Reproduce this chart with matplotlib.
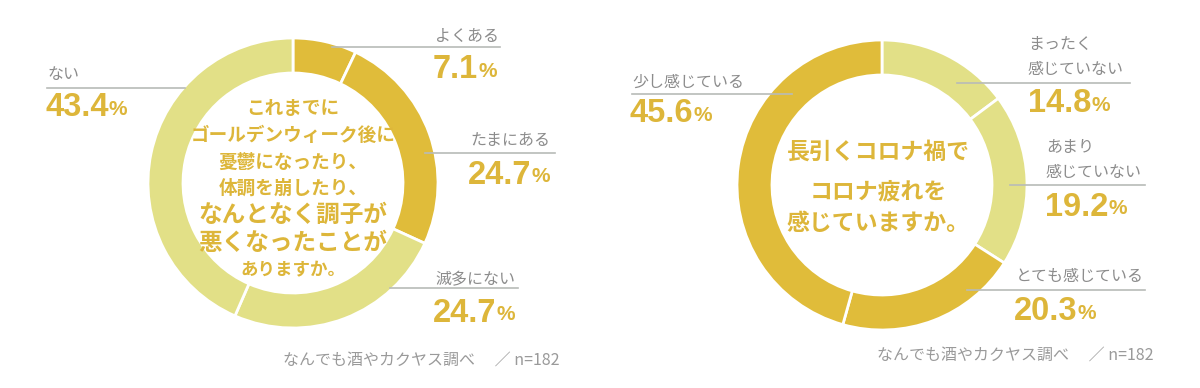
import matplotlib.pyplot as plt

plt.rcParams['font.family'] = ['Noto Sans CJK JP', 'DejaVu Sans']

# ---------- data ----------
left_labels = ["よくある", "たまにある", "滅多にない", "ない"]
left_values = [7.1, 24.7, 24.7, 43.4]
right_labels = ["まったく\n感じていない", "あまり\n感じていない", "とても感じている", "少し感じている"]
right_values = [14.8, 19.2, 20.3, 45.6]

left_title = ["これまでに", "ゴールデンウィーク後に", "憂鬱になったり、", "体調を崩したり、",
              "なんとなく調子が", "悪くなったことが", "ありますか。"]
right_title = ["長引くコロナ禍で", "コロナ疲れを", "感じていますか。"]
source = "なんでも酒やカクヤス調べ　 ／ n=182"

DARK = "#E0BC3A"
LIGHT = "#E2E087"
GOLD_TXT = "#DDB63A"
GRAY = "#8C8C8C"
LINE = "#B8BBB8"

fig = plt.figure(figsize=(12, 3.88), dpi=100)
ax = fig.add_axes([0, 0, 1, 1])


def donut(center, values, colors):
    # y axis is inverted -> counterclock in data = clockwise on screen
    ax.pie(values, colors=colors, center=center, radius=145, startangle=-90,
           counterclock=True, frame=True,
           wedgeprops=dict(width=35, edgecolor="white", linewidth=2))


def label(text, tx, ty, line_y, x0, x1, value, vx, vy):
    ax.text(tx, ty, text, fontsize=11.5, color=GRAY, ha="left", va="center",
            linespacing=1.55)
    ax.plot([x0, x1], [line_y, line_y], color=LINE, lw=1.2)
    t = ax.text(vx, vy, f"{value:.1f}", fontsize=23.5, fontweight="bold",
                color=GOLD_TXT, ha="left", va="center",
                family=["Liberation Sans", "DejaVu Sans"])
    ax.annotate("%", xy=(1, 0), xycoords=t, xytext=(0, 3),
                textcoords="offset points", fontsize=15, fontweight="bold",
                color=GOLD_TXT, ha="left", va="bottom",
                family=["Liberation Sans", "DejaVu Sans"])


# ---------- left donut ----------
donut((293, 183), left_values, [DARK, DARK, LIGHT, LIGHT])

label(left_labels[0], 435, 36, 47, 332, 500, left_values[0], 433, 70)
label(left_labels[1], 470, 141, 153, 425, 555, left_values[1], 468, 175)
label(left_labels[2], 435, 280, 288, 390, 518, left_values[2], 433, 313)
label(left_labels[3], 47, 75, 88, 47, 185, left_values[3], 45, 108)

ys = [108, 135, 162, 188, 215, 243, 270]
sizes = [13.4, 13.4, 13.4, 13.4, 17, 17, 12.6]
for s, y, fs in zip(left_title, ys, sizes):
    ax.text(293, y, s, fontsize=fs, fontweight="bold", color=GOLD_TXT,
            ha="center", va="center")

# ---------- right donut ----------
donut((882, 185), right_values, [LIGHT, LIGHT, DARK, DARK])

label(right_labels[0], 1028, 57, 83, 957, 1130, right_values[0], 1028, 104)
label(right_labels[1], 1046, 160, 185, 1010, 1145, right_values[1], 1045, 207)
label(right_labels[2], 1016, 277, 290, 967, 1145, right_values[2], 1014, 312)
label(right_labels[3], 632, 82, 94, 632, 792, right_values[3], 630, 114)

for s, y in zip(right_title, [152, 192, 224]):
    ax.text(878, y, s, fontsize=16.5, fontweight="bold", color=GOLD_TXT,
            ha="center", va="center")

# ---------- source ----------
ax.text(283, 360, source, fontsize=11.5, color="#9A9A9A", ha="left", va="center")
ax.text(877, 355, source, fontsize=11.5, color="#9A9A9A", ha="left", va="center")

ax.set_xlim(0, 1200)
ax.set_ylim(388, 0)
ax.set_aspect("equal")
ax.axis("off")

plt.savefig("out.png", dpi=100, facecolor="white")
plt.close()
